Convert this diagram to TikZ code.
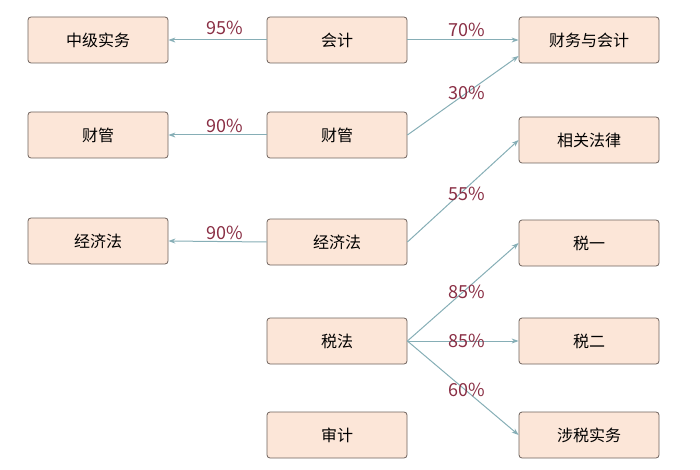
\documentclass[tikz,border=0pt]{standalone}
\usepackage{fontspec}
\setmainfont{Noto Sans CJK SC}
\usetikzlibrary{arrows.meta}
\definecolor{boxfill}{HTML}{FCE6D8}
\definecolor{boxline}{HTML}{6E625C}
\definecolor{arr}{HTML}{86AEB6}
\definecolor{lab}{HTML}{8A2F45}
\tikzset{
 box/.style={draw=boxline,fill=boxfill,rounded corners=3pt,minimum width=140pt,minimum height=46pt,font=\fontsize{16}{18}\selectfont,line width=0.8pt},
 con/.style={draw=arr,line width=1pt,-{Stealth[length=7pt,width=5pt]}},
 pct/.style={text=lab,font=\fontsize{18}{20}\selectfont}
}
\begin{document}
\begin{tikzpicture}[x=1pt,y=-1pt]
\useasboundingbox (0,0) rectangle (700,470);
\node[box] (zj) at (98,40) {中级实务};
\node[box] (cgL) at (98,135) {财管};
\node[box] (jjL) at (98,241) {经济法};
\node[box] (kj) at (337,40) {会计};
\node[box] (cg) at (337,135) {财管};
\node[box] (jj) at (337,242) {经济法};
\node[box] (sf) at (337,341) {税法};
\node[box] (sj) at (337,435) {审计};
\node[box] (fa) at (589,40) {财务与会计};
\node[box] (xg) at (589,140) {相关法律};
\node[box] (s1) at (589,243) {税一};
\node[box] (s2) at (589,341) {税二};
\node[box] (ss) at (589,435) {涉税实务};
\draw[con] (kj.west) -- (zj.east);
\draw[con] (cg.west) -- (cgL.east);
\draw[con] (jj.west) -- (jjL.east);
\draw[con] (kj.east) -- (fa.west);
\draw[con] (cg.east) -- ([yshift=-16pt]fa.west);
\draw[con] (jj.east) -- (xg.west);
\draw[con] (sf.east) -- (s1.west);
\draw[con] (sf.east) -- (s2.west);
\draw[con] (sf.east) -- (ss.west);
\node[pct] (p1) at (225,28) {95\%};
\node[pct] (p2) at (225,126) {90\%};
\node[pct] (p3) at (225,233) {90\%};
\node[pct] (p4) at (467,30) {70\%};
\node[pct] (p5) at (467,93) {30\%};
\node[pct] (p6) at (467,194) {55\%};
\node[pct] (p7) at (467,292) {85\%};
\node[pct] (p8) at (467,341) {85\%};
\node[pct] (p9) at (467,390) {60\%};
\end{tikzpicture}
\end{document}
